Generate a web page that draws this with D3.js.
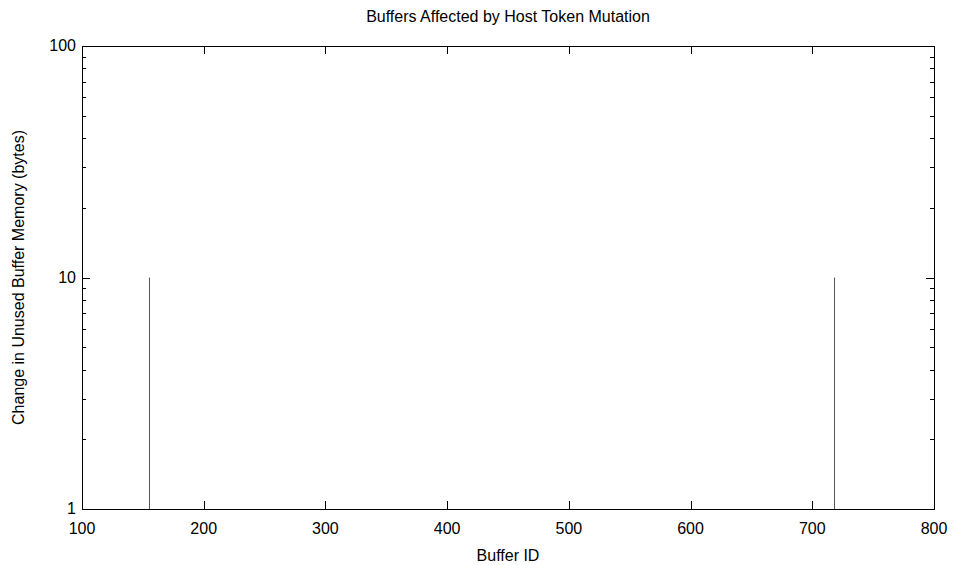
<!DOCTYPE html>
<html>
<head>
<meta charset="utf-8">
<script src="https://cdn.jsdelivr.net/npm/d3@7"></script>
<style>
  body { margin: 0; background: #fff; }
  text { font-family: "Liberation Sans", Arial, sans-serif; font-size: 16px; fill: #000; }
</style>
</head>
<body>
<script>
// data
var bufferIds = [155, 718];
var changes = [10, 10];
var xTicks = [100, 200, 300, 400, 500, 600, 700, 800];
var yTicks = [1, 10, 100];

var w = 953, h = 565;
var m = { left: 82, right: 19, top: 46, bottom: 56 };

var svg = d3.select("body").append("svg")
  .attr("width", w).attr("height", h);

var x = d3.scaleLinear().domain([100, 800]).range([m.left, w - m.right]);
var y = d3.scaleLog().domain([1, 100]).range([h - m.bottom, m.top]);

var minor = [];
[1, 10].forEach(function(d) {
  for (var k = 2; k <= 9; k++) minor.push(d * k);
});

// ticks, gnuplot style: inward, mirrored
function tickLines(g, data, pos, horiz, len) {
  data.forEach(function(v) {
    var p = Math.round(pos(v)) + 0.5;
    if (horiz) {
      g.append("line").attr("x1", p).attr("x2", p)
        .attr("y1", h - m.bottom).attr("y2", h - m.bottom - len);
      g.append("line").attr("x1", p).attr("x2", p)
        .attr("y1", m.top).attr("y2", m.top + len);
    } else {
      g.append("line").attr("y1", p).attr("y2", p)
        .attr("x1", m.left).attr("x2", m.left + len);
      g.append("line").attr("y1", p).attr("y2", p)
        .attr("x1", w - m.right).attr("x2", w - m.right - len);
    }
  });
}

var tg = svg.append("g").attr("stroke", "#000").attr("stroke-width", 1);
tickLines(tg, xTicks, x, true, 8);
tickLines(tg, yTicks, y, false, 8);
tickLines(tg, minor, y, false, 4);

// impulses
svg.append("g").selectAll("line")
  .data(bufferIds)
  .enter()
  .append("line")
  .attr("x1", function(d) { return Math.round(x(d)) + 0.5; })
  .attr("x2", function(d) { return Math.round(x(d)) + 0.5; })
  .attr("y1", y(1))
  .attr("y2", function(d, i) { return y(changes[i]); })
  .attr("stroke", "#555")
  .attr("stroke-width", 1);

// frame
svg.append("rect")
  .attr("x", m.left + 0.5).attr("y", m.top + 0.5)
  .attr("width", w - m.left - m.right).attr("height", h - m.top - m.bottom)
  .attr("fill", "none").attr("stroke", "#000").attr("stroke-width", 1);

// tick labels
svg.append("g").selectAll("text")
  .data(xTicks).enter().append("text")
  .attr("x", function(d) { return x(d); })
  .attr("y", h - m.bottom + 25)
  .attr("text-anchor", "middle")
  .text(function(d) { return d; });

svg.append("g").selectAll("text")
  .data(yTicks).enter().append("text")
  .attr("x", m.left - 6)
  .attr("y", function(d) { return y(d) + 5; })
  .attr("text-anchor", "end")
  .text(function(d) { return d; });

// titles
svg.append("text")
  .attr("x", (m.left + w - m.right) / 2).attr("y", 22)
  .attr("text-anchor", "middle")
  .text("Buffers Affected by Host Token Mutation");

svg.append("text")
  .attr("x", (m.left + w - m.right) / 2).attr("y", h - 4)
  .attr("text-anchor", "middle")
  .text("Buffer ID");

svg.append("text")
  .attr("transform", "translate(24," + ((m.top + h - m.bottom) / 2) + ") rotate(-90)")
  .attr("text-anchor", "middle")
  .text("Change in Unused Buffer Memory (bytes)");
</script>
</body>
</html>
